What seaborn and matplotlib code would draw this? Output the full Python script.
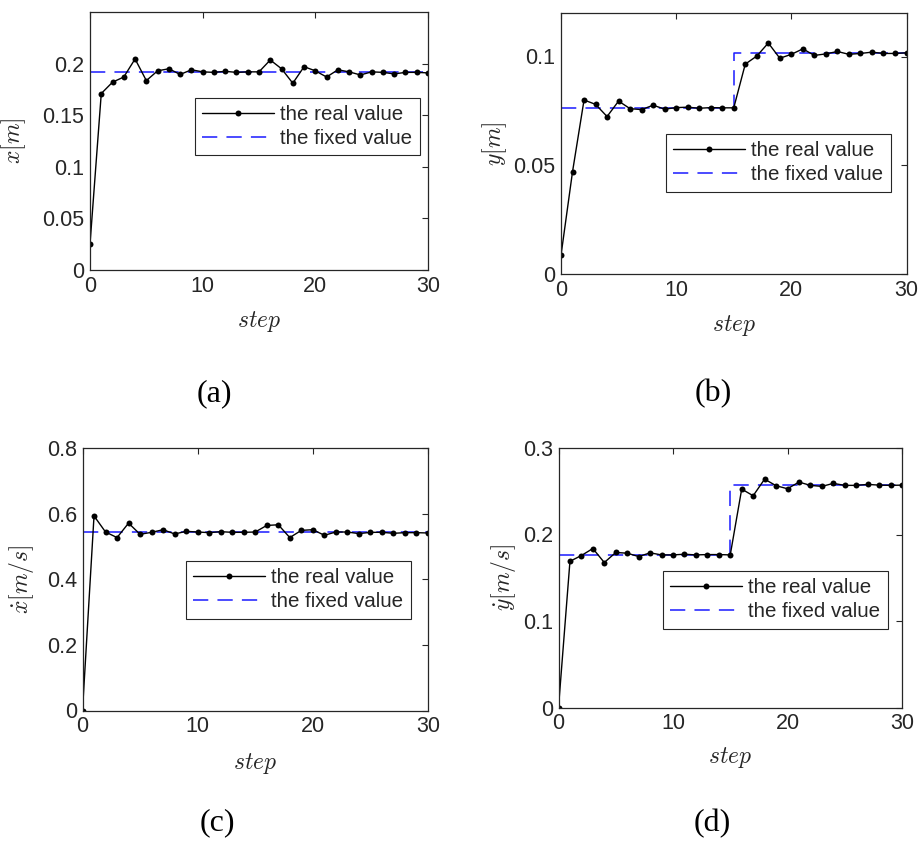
import numpy as np
import pandas as pd
import matplotlib
matplotlib.use("Agg")
import matplotlib.pyplot as plt
import seaborn as sns
from matplotlib.ticker import FuncFormatter, MultipleLocator

steps = list(range(31))

real_x = [0.025, 0.171, 0.182, 0.187, 0.2045, 0.1835, 0.193, 0.195, 0.1895, 0.194, 0.192,
          0.1915, 0.1925, 0.1915, 0.192, 0.192, 0.2035, 0.195, 0.181, 0.197, 0.193,
          0.187, 0.194, 0.192, 0.189, 0.192, 0.1915, 0.190, 0.1915, 0.1915, 0.191]
fixed_x = [0.192] * 31

real_y = [0.0086, 0.047, 0.080, 0.078, 0.0724, 0.0795, 0.076, 0.0756, 0.0776, 0.0758, 0.0765,
          0.0767, 0.0762, 0.0765, 0.0764, 0.0764, 0.0965, 0.1002, 0.1062, 0.0992, 0.101,
          0.1035, 0.1005, 0.1012, 0.1023, 0.101, 0.1014, 0.102, 0.1014, 0.1014, 0.1017]
fixed_y = [0.0765] * 15 + [0.1017] * 16

real_vx = [0.0, 0.593, 0.544, 0.527, 0.571, 0.537, 0.543, 0.551, 0.538, 0.546, 0.544,
           0.542, 0.545, 0.543, 0.543, 0.544, 0.564, 0.566, 0.527, 0.549, 0.551,
           0.534, 0.544, 0.544, 0.539, 0.543, 0.543, 0.540, 0.542, 0.542, 0.541]
fixed_vx = [0.543] * 31

real_vy = [0.0, 0.169, 0.1757, 0.1838, 0.1676, 0.1792, 0.1784, 0.1745, 0.1788, 0.1764, 0.1764,
           0.1772, 0.1764, 0.1768, 0.1768, 0.1764, 0.2525, 0.2448, 0.264, 0.2564, 0.2529,
           0.2606, 0.2568, 0.2556, 0.2591, 0.2568, 0.2568, 0.2579, 0.2571, 0.2568, 0.2571]
fixed_vy = [0.1764] * 15 + [0.2571] * 16

ylabels = [r'$x[m]$', r'$y[m]$', r'$\dot{x}[m/s]$', r'$\dot{y}[m/s]$']
captions = ['(a)', '(b)', '(c)', '(d)']
legend_labels = ['the real value', 'the fixed value']

sns.set_style("white")
plt.rcParams['font.family'] = ['Liberation Sans', 'DejaVu Sans']
plt.rcParams['mathtext.fontset'] = 'cm'

W, H = 919, 843
fig = plt.figure(figsize=(W / 100, H / 100), dpi=100)

# axes boxes in pixels: left, right, top, bottom
boxes = [(90, 428, 12, 270), (561, 906.5, 13, 274), (82.5, 428, 448, 710.5), (558.5, 902, 448, 707.5)]
ylims = [(0, 0.25), (0, 0.12), (0, 0.8), (0, 0.3)]
ystep = [0.05, 0.05, 0.2, 0.1]
ymax_tick = [0.2, 0.1, 0.8, 0.3]
ylabel_x = [14, 495, 22, 503]
legend_pos = [(195, 97.5), (666, 134), (186, 561), (663, 571)]
caption_pos = [(214, 394), (713, 394), (217, 823), (712, 824)]
step_y = [322, 326, 763, 758]

datasets = [(real_x, fixed_x), (real_y, fixed_y), (real_vx, fixed_vx), (real_vy, fixed_vy)]

for i, (real, fixed) in enumerate(datasets):
    l, r, t, b = boxes[i]
    ax = fig.add_axes([l / W, 1 - b / H, (r - l) / W, (b - t) / H])
    df = pd.DataFrame({'step': steps, 'real': real, 'fixed': fixed})
    sns.lineplot(data=df, x='step', y='fixed', ax=ax, color='#1a1aff', lw=1.1,
                 linestyle=(0, (10, 6)), drawstyle='steps-post', label=legend_labels[1],
                 legend=False)
    sns.lineplot(data=df, x='step', y='real', ax=ax, color='black', lw=1.0,
                 marker='o', markersize=4.3, markeredgewidth=0, label=legend_labels[0],
                 legend=False)
    ax.set_xlim(0, 30)
    ax.set_ylim(*ylims[i])
    ax.xaxis.set_major_locator(MultipleLocator(10))
    yt = np.arange(0, ymax_tick[i] + 1e-9, ystep[i])
    ax.set_yticks(yt)
    ax.yaxis.set_major_formatter(FuncFormatter(lambda v, p: '%g' % round(v, 4)))
    ax.tick_params(direction='in', length=4, width=0.8, top=True, right=True,
                   labelsize=15.5, pad=4, colors='#262626', labelcolor='#262626')
    for s in ax.spines.values():
        s.set_visible(True)
        s.set_color('#262626')
        s.set_linewidth(0.9)
    ax.set_xlabel('')
    ax.set_ylabel('')
    # labels
    fig.text(ylabel_x[i] / W, 1 - ((t + b) / 2) / H, ylabels[i], rotation=90,
             ha='center', va='center', fontsize=17, color='#262626')
    fig.text(((l + r) / 2) / W, 1 - step_y[i] / H, r'$step$', ha='center', va='center',
             fontsize=17, color='#262626')
    fig.text(caption_pos[i][0] / W, 1 - caption_pos[i][1] / H, captions[i], ha='center',
             va='center', fontsize=23, family='Liberation Serif', color='black')
    handles, labs = ax.get_legend_handles_labels()
    order = [labs.index(legend_labels[0]), labs.index(legend_labels[1])]
    lx, ly = legend_pos[i]
    leg = ax.legend([handles[k] for k in order], [labs[k] for k in order],
                    loc='upper left', bbox_to_anchor=(lx / W, 1 - ly / H),
                    bbox_transform=fig.transFigure, borderaxespad=0,
                    fontsize=14.8, frameon=True, fancybox=False, framealpha=1,
                    edgecolor='#262626', handlelength=3.5, handletextpad=0.3,
                    labelspacing=0.25, borderpad=0.35)
    leg.get_frame().set_linewidth(0.8)
    for txt in leg.get_texts():
        txt.set_color('#262626')

fig.savefig('out.png', dpi=100, facecolor='white')
